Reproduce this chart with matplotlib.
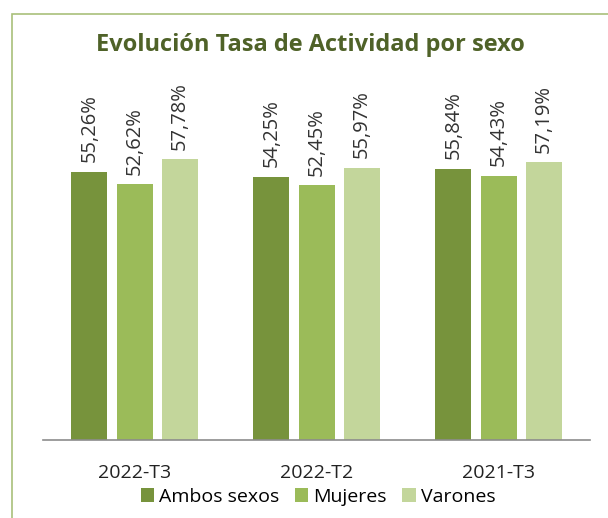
import matplotlib
matplotlib.use("Agg")
import matplotlib.pyplot as plt
import numpy as np
from matplotlib.patches import Rectangle

categories = ["2022-T3", "2022-T2", "2021-T3"]
series_names = ["Ambos sexos", "Mujeres", "Varones"]
ambos = [55.26, 54.25, 55.84]
mujeres = [52.62, 52.45, 54.43]
varones = [57.78, 55.97, 57.19]
colors = ["#77933C", "#9BBB59", "#C3D69B"]

plt.rcParams["font.family"] = ["Open Sans", "DejaVu Sans"]

W, H = 608, 518
fig = plt.figure(figsize=(W / 100, H / 100), dpi=100)

# chart frame (cut off at right/bottom in the reference)
fig.patches.append(Rectangle((12 / W, -0.05), 1.05, 1 - 14 / H + 0.05,
                             transform=fig.transFigure, fill=False,
                             edgecolor="#A9C07A", lw=1.2))

ax = fig.add_axes([43 / W, 1 - 440 / H, 547 / W, 340 / H])
x = np.arange(len(categories))
width = 0.198
offsets = [-0.25, 0.0, 0.248]
for vals, name, c, off in zip([ambos, mujeres, varones], series_names, colors, offsets):
    bars = ax.bar(x + off, vals, width, color=c, label=name)
    for b, v in zip(bars, vals):
        ax.text(b.get_x() + b.get_width() / 2, v + 2.0,
                f"{v:.2f}%".replace(".", ","), rotation=90, ha="center",
                va="bottom", fontsize=14.5, color="#333333")

ax.set_xlim(-0.505, 2.5)
ax.set_ylim(0, 70)
ax.set_yticks([])
ax.set_xticks(x)
ax.set_xticklabels(categories, fontsize=14, color="#222222")
ax.tick_params(axis="x", length=0, pad=17)
for s in ["top", "right", "left"]:
    ax.spines[s].set_visible(False)
ax.spines["bottom"].set_color("#8C8C8C")
ax.spines["bottom"].set_linewidth(1.2)

fig.text(310 / W, 1 - 45 / H, "Evolución Tasa de Actividad por sexo",
         ha="center", va="center", fontsize=17, fontweight="bold",
         color="#4F6228")

fig.legend(loc="center", bbox_to_anchor=(318 / W, 1 - 497 / H), ncol=3,
           frameon=False, fontsize=14, handlelength=0.7, handleheight=0.7,
           handletextpad=0.25, columnspacing=0.8, borderpad=0)

fig.savefig("out.png", dpi=100)
